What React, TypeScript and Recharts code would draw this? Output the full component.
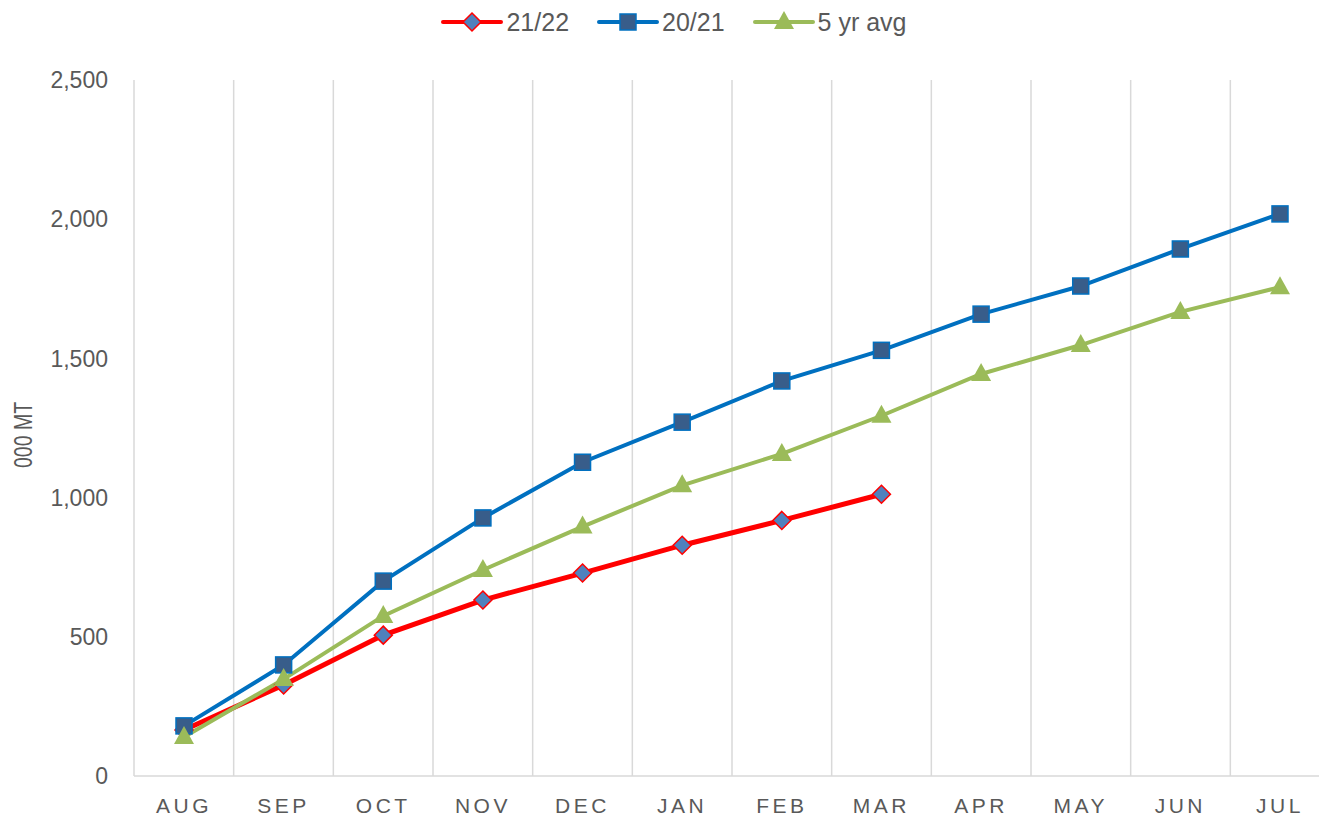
import { CartesianGrid, Legend, Line, LineChart, XAxis, YAxis } from "recharts";

const months = ["AUG", "SEP", "OCT", "NOV", "DEC", "JAN", "FEB", "MAR", "APR", "MAY", "JUN", "JUL"];
const season2122 = [165, 327, 506, 632, 729, 829, 918, 1012, null, null, null, null];
const season2021 = [180, 399, 700, 927, 1127, 1271, 1419, 1529, 1659, 1760, 1893, 2019];
const fiveYrAvg = [140, 348, 575, 740, 896, 1044, 1157, 1294, 1444, 1548, 1667, 1756];
const yTicks = [0, 500, 1000, 1500, 2000, 2500];
const legendOrder = ["s2122", "s2021", "avg"];

const data = months.map((m, i) => ({
  month: m,
  s2122: season2122[i],
  s2021: season2021[i],
  avg: fiveYrAvg[i],
}));

const FONT = "'Liberation Sans', Arial, sans-serif";
const TEXT = "#595959";
const GRID = "#D9D9D9";

function Diamond({ cx, cy }: { cx: number; cy: number }) {
  return (
    <polygon
      points={`${cx},${cy - 9} ${cx + 9},${cy} ${cx},${cy + 9} ${cx - 9},${cy}`}
      fill="#4F81BD"
      stroke="#FF0000"
      strokeWidth={1.5}
    />
  );
}

function Square({ cx, cy }: { cx: number; cy: number }) {
  return (
    <rect x={cx - 8} y={cy - 8} width={16} height={16} fill="#385D8A" stroke="#0070C0" strokeWidth={1.5} />
  );
}

function Triangle({ cx, cy }: { cx: number; cy: number }) {
  return (
    <polygon points={`${cx},${cy - 11} ${cx + 10},${cy + 7} ${cx - 10},${cy + 7}`} fill="#9BBB59" />
  );
}

const markers: Record<string, (p: { cx: number; cy: number }) => JSX.Element> = {
  s2122: Diamond,
  s2021: Square,
  avg: Triangle,
};

function makeDot(key: string) {
  const Marker = markers[key];
  return (props: any) => {
    const { cx, cy, index } = props;
    if (cx == null || cy == null || props.value == null || (Array.isArray(props.value) && props.value[1] == null)) {
      return <g key={`${key}-${index}`} />;
    }
    return (
      <g key={`${key}-${index}`}>
        <Marker cx={cx} cy={cy} />
      </g>
    );
  };
}

function LegendContent({ payload }: any) {
  const items = [...(payload || [])].sort(
    (a: any, b: any) => legendOrder.indexOf(a.dataKey) - legendOrder.indexOf(b.dataKey)
  );
  return (
    <div style={{ height: 76, display: "flex", justifyContent: "center", fontFamily: FONT, paddingLeft: 18 }}>
      {items.map((item: any) => {
        const Marker = markers[item.dataKey];
        return (
          <div key={item.dataKey} style={{ display: "flex", alignItems: "center", height: 36, margin: "0 14px" }}>
            <svg width={62} height={24}>
              <line x1={2} y1={12} x2={60} y2={12} stroke={item.color} strokeWidth={4} strokeLinecap="round" />
              <Marker cx={31} cy={12} />
            </svg>
            <span style={{ color: TEXT, fontSize: 25, marginLeft: 3 }}>{item.value}</span>
          </div>
        );
      })}
    </div>
  );
}

// condensed, rotated axis title
function YLabel({ viewBox }: any) {
  if (!viewBox) return null;
  const x = viewBox.x + 24;
  const y = viewBox.y + viewBox.height / 2 + 7;
  return (
    <g transform={`translate(${x}, ${y}) rotate(-90) scale(0.78, 1)`}>
      <text x={0} y={0} textAnchor="middle" dominantBaseline="central" fill={TEXT} fontSize={25} fontFamily={FONT}>
        000 MT
      </text>
    </g>
  );
}

export default function App() {
  return (
    <div style={{ position: "absolute", left: 0, top: 0, width: 1319, height: 821, overflow: "hidden", background: "#fff" }}>
      <LineChart width={1340} height={821} data={data} margin={{ top: 4, right: 10, bottom: 0, left: 0 }}>
        <CartesianGrid
          horizontal={false}
          stroke={GRID}
          strokeWidth={1.5}
          verticalCoordinatesGenerator={({ offset }: any) =>
            months.slice(1).map((_, i) => offset.left + ((i + 1) * offset.width) / months.length)
          }
        />
        <XAxis
          dataKey="month"
          padding={{ left: 50, right: 50 }}
          axisLine={{ stroke: GRID, strokeWidth: 1.5 }}
          tickLine={false}
          tickSize={0}
          tickMargin={22}
          height={45}
          interval={0}
          tick={{ fill: TEXT, fontSize: 21, fontFamily: FONT, letterSpacing: 3.5 }}
        />
        <YAxis
          width={134}
          domain={[0, 2500]}
          ticks={yTicks}
          axisLine={{ stroke: GRID, strokeWidth: 1.5 }}
          tickLine={false}
          tickSize={0}
          tickMargin={26}
          tickFormatter={(v: number) => v.toLocaleString("en-US")}
          tick={{ fill: TEXT, fontSize: 23, fontFamily: FONT }}
          label={{ content: <YLabel />, position: "insideLeft" }}
        />
        <Legend verticalAlign="top" align="center" content={<LegendContent />} />
        <Line
          dataKey="s2122"
          name="21/22"
          stroke="#FF0000"
          strokeWidth={5}
          dot={makeDot("s2122")}
          activeDot={false}
          isAnimationActive={false}
        />
        <Line
          dataKey="s2021"
          name="20/21"
          stroke="#0070C0"
          strokeWidth={4}
          dot={makeDot("s2021")}
          activeDot={false}
          isAnimationActive={false}
        />
        <Line
          dataKey="avg"
          name="5 yr avg"
          stroke="#9BBB59"
          strokeWidth={4}
          dot={makeDot("avg")}
          activeDot={false}
          isAnimationActive={false}
        />
      </LineChart>
    </div>
  );
}
